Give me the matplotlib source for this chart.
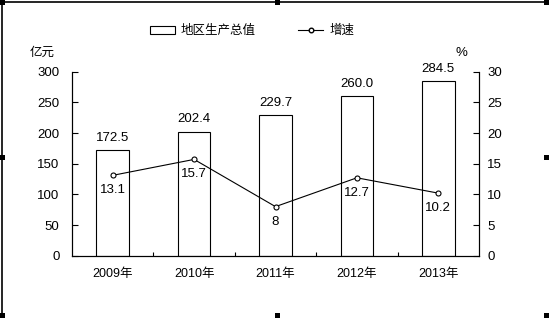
import matplotlib
matplotlib.use("Agg")
import matplotlib.pyplot as plt
from matplotlib.patches import Rectangle, Patch
from matplotlib.lines import Line2D

plt.rcParams['font.family'] = ['Liberation Sans', 'Noto Sans CJK SC']
plt.rcParams['font.size'] = 9

years = ["2009年", "2010年", "2011年", "2012年", "2013年"]
gdp = [172.5, 202.4, 229.7, 260.0, 284.5]
growth = [13.1, 15.7, 8, 12.7, 10.2]
gdp_labels = ["172.5", "202.4", "229.7", "260.0", "284.5"]
growth_labels = ["13.1", "15.7", "8", "12.7", "10.2"]

W, H = 549, 318
fig = plt.figure(figsize=(W / 100, H / 100), dpi=100)
ax = fig.add_axes([72 / W, 1 - 255.7 / H, (479 - 72) / W, (255.7 - 71.7) / H])
ax2 = ax.twinx()

x = list(range(len(years)))
ax.bar(x, gdp, width=0.4, color="white", edgecolor="black", linewidth=0.8)
for xi, v, lab in zip(x, gdp, gdp_labels):
    ax.annotate(lab, (xi, v), xytext=(0, 4.5), textcoords="offset points",
                ha="center", va="bottom", fontsize=9.5)

ax2.plot(x, growth, color="black", linewidth=0.8, marker="o", markersize=3.6,
         markerfacecolor="white", markeredgecolor="black", markeredgewidth=0.8)
for xi, v, lab in zip(x, growth, growth_labels):
    ax2.annotate(lab, (xi, v), xytext=(0, -6.5), textcoords="offset points",
                 ha="center", va="top", fontsize=9.5)

ax.set_xlim(-0.5, 4.5)
ax.set_ylim(0, 300)
ax.set_yticks(range(0, 301, 50))
ax2.set_ylim(0, 30)
ax2.set_yticks(range(0, 31, 5))

ax.set_xticks(x)
ax.set_xticklabels(years)
ax.set_xticks([0.5, 1.5, 2.5, 3.5], minor=True)
ax.tick_params(axis="x", which="major", length=0, pad=9)
ax.tick_params(axis="x", which="minor", direction="in", length=3, width=0.8)
ax.tick_params(axis="y", direction="in", length=4, width=0.8, pad=9, labelsize=9.5)
ax2.tick_params(axis="y", direction="in", length=4, width=0.8, pad=6, labelsize=9.5)

for a in (ax, ax2):
    a.spines["top"].set_visible(False)
    for s in a.spines.values():
        s.set_linewidth(0.8)

fig.text(30 / W, 1 - 53 / H, "亿元", ha="left", va="center", fontsize=9)
fig.text(455 / W, 1 - 53 / H, "%", ha="left", va="center", fontsize=9.5)

handles = [Patch(facecolor="white", edgecolor="black", linewidth=0.8),
           Line2D([], [], color="black", linewidth=0.8, marker="o", markersize=3.3,
                  markerfacecolor="white", markeredgecolor="black")]
fig.legend(handles, ["地区生产总值", "增速"], ncol=2, frameon=False,
           loc="center", bbox_to_anchor=(252 / W, 1 - 31 / H),
           handlelength=2.0, handleheight=0.6, handletextpad=0.5,
           columnspacing=3.4, fontsize=9)

# frame lines and selection handles
fig.add_artist(Line2D([2 / W, 2 / W], [1 - 314 / H, 1 - 2 / H], color="black",
                      linewidth=1.2, transform=fig.transFigure))
fig.add_artist(Line2D([2 / W, 546 / W], [1 - 2 / H, 1 - 2 / H], color="black",
                      linewidth=1.2, transform=fig.transFigure))
for hx, hy in [(0, 0), (275, 0), (544, 0), (0, 155), (544, 155),
               (0, 313), (275, 313), (544, 313)]:
    fig.add_artist(Rectangle((hx / W, 1 - (hy + 5) / H), 5 / W, 5 / H,
                             facecolor="black", edgecolor="none",
                             transform=fig.transFigure))

fig.savefig("out.png", dpi=100)
